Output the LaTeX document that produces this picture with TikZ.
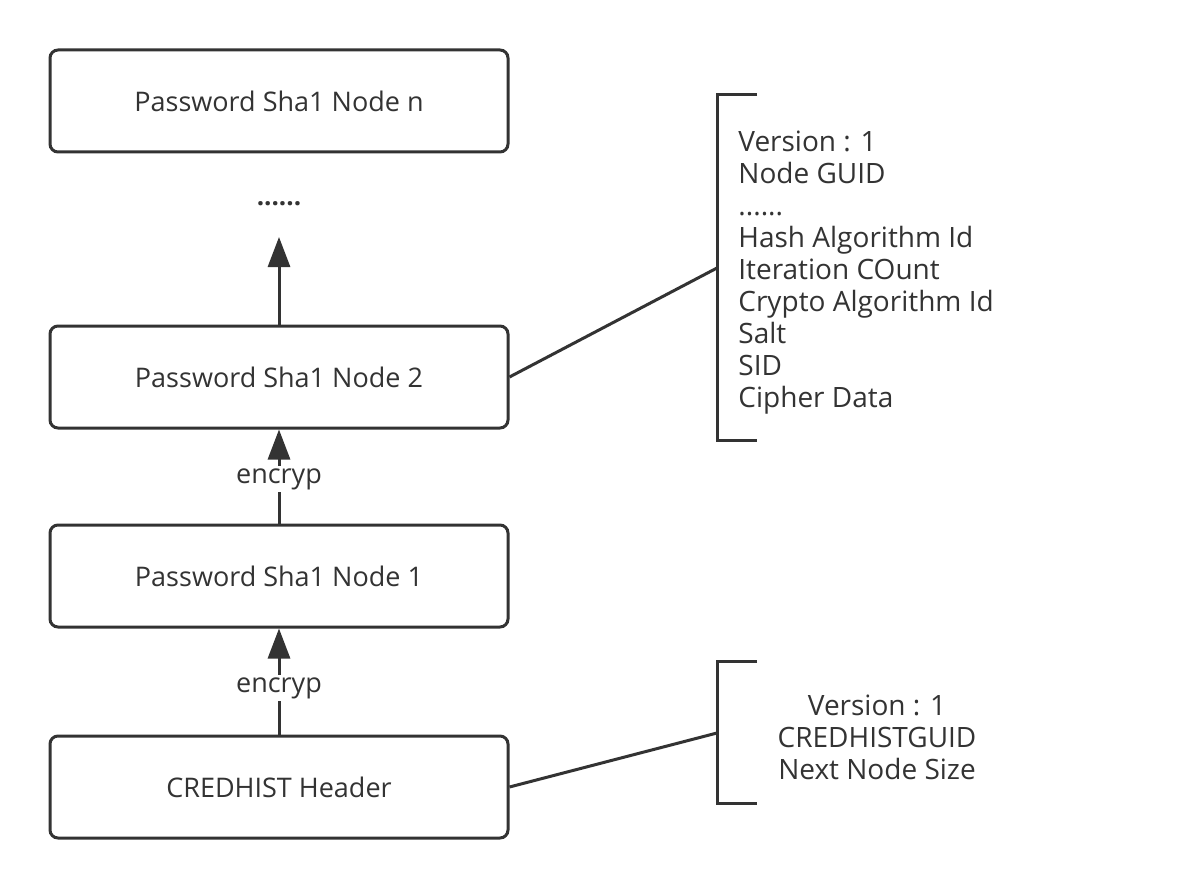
\documentclass[tikz,border=0pt]{standalone}
\usepackage{fontspec}
\setmainfont{Open Sans}
\usetikzlibrary{arrows.meta}
\definecolor{ink}{HTML}{333333}
\begin{document}
\begin{tikzpicture}[x=0.5pt,y=-0.5pt,
  box/.style={draw=ink,line width=1.5pt,rounded corners=4pt,minimum width=229pt,minimum height=51pt,inner sep=0pt,text=ink,font=\fontsize{13.5}{16}\selectfont},
  conn/.style={draw=ink,line width=1.5pt},
  arr/.style={conn,-{Triangle[width=11pt,length=15pt]}},
  lbl/.style={text=ink,font=\fontsize{13.5}{16}\selectfont,inner sep=0pt},
  list/.style={text=ink,font=\fontsize{14}{16}\selectfont,inner sep=0pt,align=left}]
\useasboundingbox[fill=white] (0,0) rectangle (1184,888);
\node[box] (bn) at (279,101) {Password Sha1 Node n};
\node[box] (b2) at (279,377) {Password Sha1 Node 2};
\node[box] (b1) at (279,576) {Password Sha1 Node 1};
\node[box] (hd) at (279,787) {CREDHIST Header};
\node[lbl,font=\fontsize{13}{14}\selectfont\bfseries] (dots) at (279,204) {......};
\coordinate (tipn) at (279,237);
\draw[arr] (b2.north) -- (tipn);
\draw[arr] (b1.north) -- (b2.south);
\draw[arr] (hd.north) -- (b1.south);
\node[lbl,fill=white,inner ysep=1pt] (e2) at (279,479) {encryp};
\node[lbl,fill=white,inner ysep=1pt] (e1) at (279,688) {encryp};
% top bracket
\coordinate (bt1) at (757,95);
\coordinate (bt2) at (717,95);
\coordinate (bt3) at (717,440);
\coordinate (bt4) at (757,440);
\coordinate (btm) at (717,268);
\draw[conn] (bt1) -- (bt2) -- (bt3) -- (bt4);
\draw[conn] (b2.east) -- (btm);
\node[list,anchor=north west] (info) at (738,131) {Version : 1\\Node GUID\\......\\Hash Algorithm Id\\Iteration COunt\\Crypto Algorithm Id\\Salt\\SID\\Cipher Data};
% bottom bracket
\coordinate (bb1) at (757,661);
\coordinate (bb2) at (717,661);
\coordinate (bb3) at (717,803);
\coordinate (bb4) at (757,803);
\coordinate (bbm) at (717,733);
\draw[conn] (bb1) -- (bb2) -- (bb3) -- (bb4);
\draw[conn] (hd.east) -- (bbm);
\node[list,align=center] (hinfo) at (877,737) {Version : 1\\CREDHISTGUID\\Next Node Size};
\end{tikzpicture}
\end{document}
